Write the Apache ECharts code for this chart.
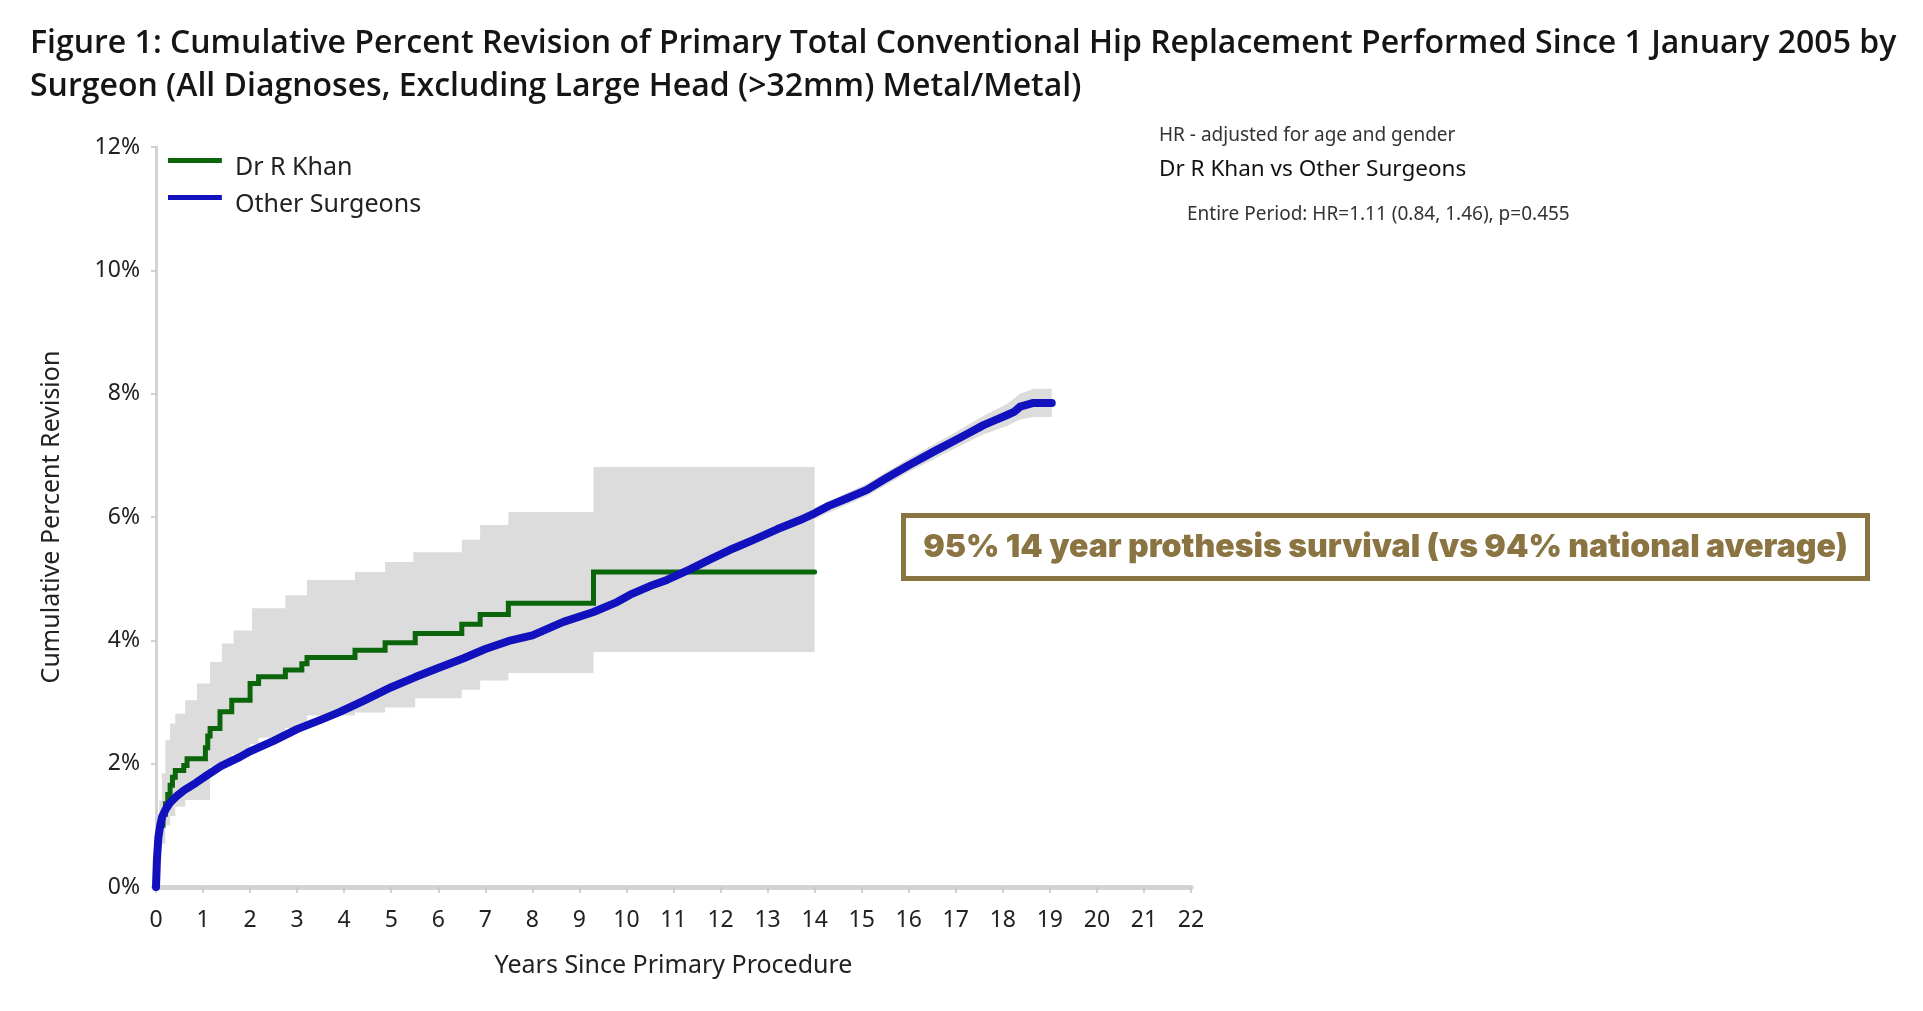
<!DOCTYPE html>
<html>
<head>
<meta charset="utf-8">
<script src="https://cdn.jsdelivr.net/npm/echarts@6/dist/echarts.min.js"></script>
<style>
  html, body { margin: 0; padding: 0; background: #ffffff; }
  #chart { width: 1923px; height: 1011px; }
</style>
</head>
<body>
<div id="chart"></div>
<script>
// ---------------- DATA ----------------
const titleText = 'Figure 1: Cumulative Percent Revision of Primary Total Conventional Hip Replacement Performed Since 1 January 2005 by\nSurgeon (All Diagnoses, Excluding Large Head (>32mm) Metal/Metal)';
const seriesNames = ['Dr R Khan', 'Other Surgeons'];
const xTicks = [0,1,2,3,4,5,6,7,8,9,10,11,12,13,14,15,16,17,18,19,20,21,22];
const yTicks = [0,2,4,6,8,10,12];
const xAxisTitle = 'Years Since Primary Procedure';
const yAxisTitle = 'Cumulative Percent Revision';

// Dr R Khan - Kaplan-Meier step values [years, cumulative % revision]
const khan = [
  [0,0],[0.03,0.45],[0.06,0.8],[0.1,1.0],[0.15,1.18],[0.2,1.35],[0.25,1.5],[0.3,1.65],[0.35,1.78],
  [0.41,1.89],[0.59,1.97],[0.66,2.08],[1.05,2.26],[1.1,2.45],[1.15,2.57],[1.36,2.84],[1.61,3.03],
  [2.0,3.30],[2.18,3.41],[2.75,3.52],[3.10,3.62],[3.21,3.72],[4.23,3.84],[4.87,3.96],[5.51,4.11],
  [6.50,4.26],[6.89,4.42],[7.49,4.60],[9.30,5.11],[14.0,5.11]
];
// Dr R Khan 95% CI (step)
const khanUpper = [
  [0,0],[0.03,0.9],[0.07,1.4],[0.125,1.84],[0.2,2.38],[0.3,2.65],[0.41,2.81],[0.62,3.03],[0.87,3.30],
  [1.15,3.65],[1.40,3.95],[1.65,4.16],[2.04,4.52],[2.75,4.73],[3.21,4.98],[4.23,5.11],[4.87,5.27],
  [5.47,5.43],[6.50,5.63],[6.89,5.87],[7.49,6.08],[9.30,6.81],[14.0,6.81]
];
const khanLower = [
  [0,0],[0.05,0.4],[0.1,0.7],[0.2,1.0],[0.3,1.15],[0.41,1.3],[0.62,1.41],[1.15,1.95],[1.40,2.05],
  [1.61,2.15],[2.0,2.32],[2.18,2.42],[2.75,2.58],[3.10,2.65],[3.21,2.78],[4.23,2.83],[4.87,2.91],
  [5.51,3.06],[6.50,3.20],[6.89,3.35],[7.49,3.47],[9.30,3.81],[14.0,3.81]
];
// Other Surgeons
const others = [
  [0,0],[0.02,0.45],[0.05,0.8],[0.09,1.0],[0.13,1.14],[0.2,1.25],[0.3,1.37],[0.45,1.48],[0.6,1.57],
  [0.85,1.69],[1.08,1.81],[1.4,1.97],[1.79,2.11],[2.0,2.2],[2.5,2.37],[3.0,2.56],[3.5,2.71],
  [3.91,2.84],[4.41,3.02],[5.0,3.24],[5.5,3.4],[6.0,3.55],[6.54,3.71],[7.0,3.86],[7.5,3.99],
  [8.0,4.08],[8.66,4.3],[9.3,4.46],[9.8,4.62],[10.08,4.74],[10.5,4.88],[10.86,4.98],[11.35,5.15],
  [11.8,5.32],[12.27,5.49],[12.7,5.63],[13.2,5.8],[13.69,5.95],[14.0,6.06],[14.3,6.18],[14.68,6.3],
  [15.11,6.44],[15.5,6.62],[16.0,6.84],[16.53,7.06],[17.0,7.25],[17.3,7.37],[17.59,7.49],[17.8,7.56],
  [18.08,7.65],[18.25,7.71],[18.37,7.79],[18.65,7.85],[19.04,7.85]
];
const othersUpper = [
  [0,0],[0.05,0.86],[0.2,1.31],[0.6,1.63],[1.08,1.87],[2.0,2.26],[3.0,2.62],[4.41,3.08],[5.5,3.46],
  [7.0,3.92],[8.66,4.36],[10.08,4.81],[11.35,5.22],[12.7,5.71],[14.0,6.15],[15.11,6.54],[16.0,6.95],
  [17.0,7.38],[17.59,7.64],[18.08,7.83],[18.37,8.0],[18.65,8.08],[19.04,8.08]
];
const othersLower = [
  [0,0],[0.05,0.74],[0.2,1.19],[0.6,1.51],[1.08,1.75],[2.0,2.14],[3.0,2.5],[4.41,2.96],[5.5,3.34],
  [7.0,3.8],[8.66,4.24],[10.08,4.67],[11.35,5.08],[12.7,5.55],[14.0,5.97],[15.11,6.34],[16.0,6.73],
  [17.0,7.12],[17.59,7.34],[18.08,7.47],[18.37,7.58],[18.65,7.62],[19.04,7.62]
];
const hrLines = [
  'HR - adjusted for age and gender',
  'Dr R Khan vs Other Surgeons',
  'Entire Period: HR=1.11 (0.84, 1.46), p=0.455'
];
const calloutText = '95% 14 year prothesis survival (vs 94% national average)';

// ---------------- CHART ----------------
const FONT = '"Noto Sans", "Open Sans", sans-serif';
const GREEN = '#0b660b';
const BLUE = '#1111bd';
const BAND = '#dcdcdc';

function stepPath(arr) {
  const out = [];
  for (let i = 0; i < arr.length; i++) {
    if (i > 0) out.push([arr[i][0], arr[i - 1][1]]);
    out.push(arr[i]);
  }
  return out;
}

function bandSeries(name, upper, lower, stepped) {
  return {
    type: 'custom',
    name: name,
    silent: true,
    z: 1,
    data: [[0, 0]],
    encode: { x: 0, y: 1 },
    renderItem: function (params, api) {
      const up = stepped ? stepPath(upper) : upper.slice();
      const lo = stepped ? stepPath(lower) : lower.slice();
      const pts = up.map(p => api.coord(p)).concat(lo.reverse().map(p => api.coord(p)));
      return { type: 'polygon', shape: { points: pts }, style: { fill: BAND } };
    }
  };
}

const chart = echarts.init(document.getElementById('chart'), null, { renderer: 'canvas' });

chart.setOption({
  backgroundColor: '#ffffff',
  animation: false,
  title: {
    text: titleText,
    left: 25,
    top: 17,
    textStyle: { fontFamily: '"Open Sans", "Noto Sans", sans-serif', fontSize: 32, fontWeight: 600, color: '#151515', lineHeight: 43 }
  },
  legend: {
    data: seriesNames,
    orient: 'vertical',
    left: 168,
    top: 155,
    icon: 'path://M0,0H54V5H0Z M0,19H0.05V19.05H0Z',
    itemWidth: 54,
    itemHeight: 19,
    itemGap: 12,
    padding: 0,
    textStyle: { fontFamily: FONT, fontSize: 25, color: '#222', padding: [0, 0, 0, 8] }
  },
  grid: { left: 156, right: 732, top: 147, bottom: 124, containLabel: false },
  xAxis: {
    type: 'value',
    min: xTicks[0],
    max: xTicks[xTicks.length - 1],
    interval: xTicks[1] - xTicks[0],
    name: xAxisTitle,
    nameLocation: 'middle',
    nameGap: 66,
    nameTextStyle: { fontFamily: FONT, fontSize: 25, color: '#222' },
    axisLine: { show: true, onZero: false, lineStyle: { color: '#d3d3d3', width: 5 } },
    axisTick: { show: true, length: 6, lineStyle: { color: '#c4c4c4', width: 1.5 } },
    axisLabel: { fontFamily: FONT, fontSize: 23, color: '#222', margin: 22 },
    splitLine: { show: false }
  },
  yAxis: {
    type: 'value',
    min: yTicks[0],
    max: yTicks[yTicks.length - 1],
    interval: yTicks[1] - yTicks[0],
    name: yAxisTitle,
    nameLocation: 'middle',
    nameRotate: 90,
    nameGap: 92,
    nameTextStyle: { fontFamily: FONT, fontSize: 25, color: '#222' },
    axisLine: { show: true, lineStyle: { color: '#d3d3d3', width: 3 } },
    axisTick: { show: true, length: 5, lineStyle: { color: '#c4c4c4', width: 1.5 } },
    axisLabel: { fontFamily: FONT, fontSize: 23, color: '#222', margin: 16, formatter: '{value}%' },
    splitLine: { show: false }
  },
  series: [
    bandSeries('khanCI', khanUpper, khanLower, true),
    bandSeries('othersCI', othersUpper, othersLower, false),
    {
      type: 'line', name: seriesNames[0], data: khan, step: 'end', showSymbol: false, symbol: 'none',
      z: 3, lineStyle: { color: GREEN, width: 5, cap: 'round', join: 'miter' }, itemStyle: { color: GREEN }
    },
    {
      type: 'line', name: seriesNames[1], data: others, showSymbol: false, symbol: 'none',
      z: 4, lineStyle: { color: BLUE, width: 8, cap: 'round', join: 'round' }, itemStyle: { color: BLUE }
    }
  ],
  graphic: [
    { type: 'text', left: 1159, top: 126, style: { text: hrLines[0], fontFamily: FONT, fontSize: 19, fill: '#333' } },
    { type: 'text', left: 1159, top: 158, style: { text: hrLines[1], fontFamily: FONT, fontSize: 22.5, fill: '#111' } },
    { type: 'text', left: 1187, top: 205, style: { text: hrLines[2], fontFamily: FONT, fontSize: 19, fill: '#333' } },
    {
      type: 'group', left: 901, top: 513,
      children: [
        { type: 'rect', shape: { x: 0, y: 0, width: 964, height: 63 }, style: { fill: '#ffffff', stroke: '#8a7442', lineWidth: 5 } },
        { type: 'text', x: 482, y: 32, style: { text: calloutText, fontFamily: 'Inter, "Noto Sans", sans-serif', fontWeight: 900, fontSize: 32, fill: '#8a7442', align: 'center', verticalAlign: 'middle' } }
      ]
    }
  ]
});
</script>
</body>
</html>
